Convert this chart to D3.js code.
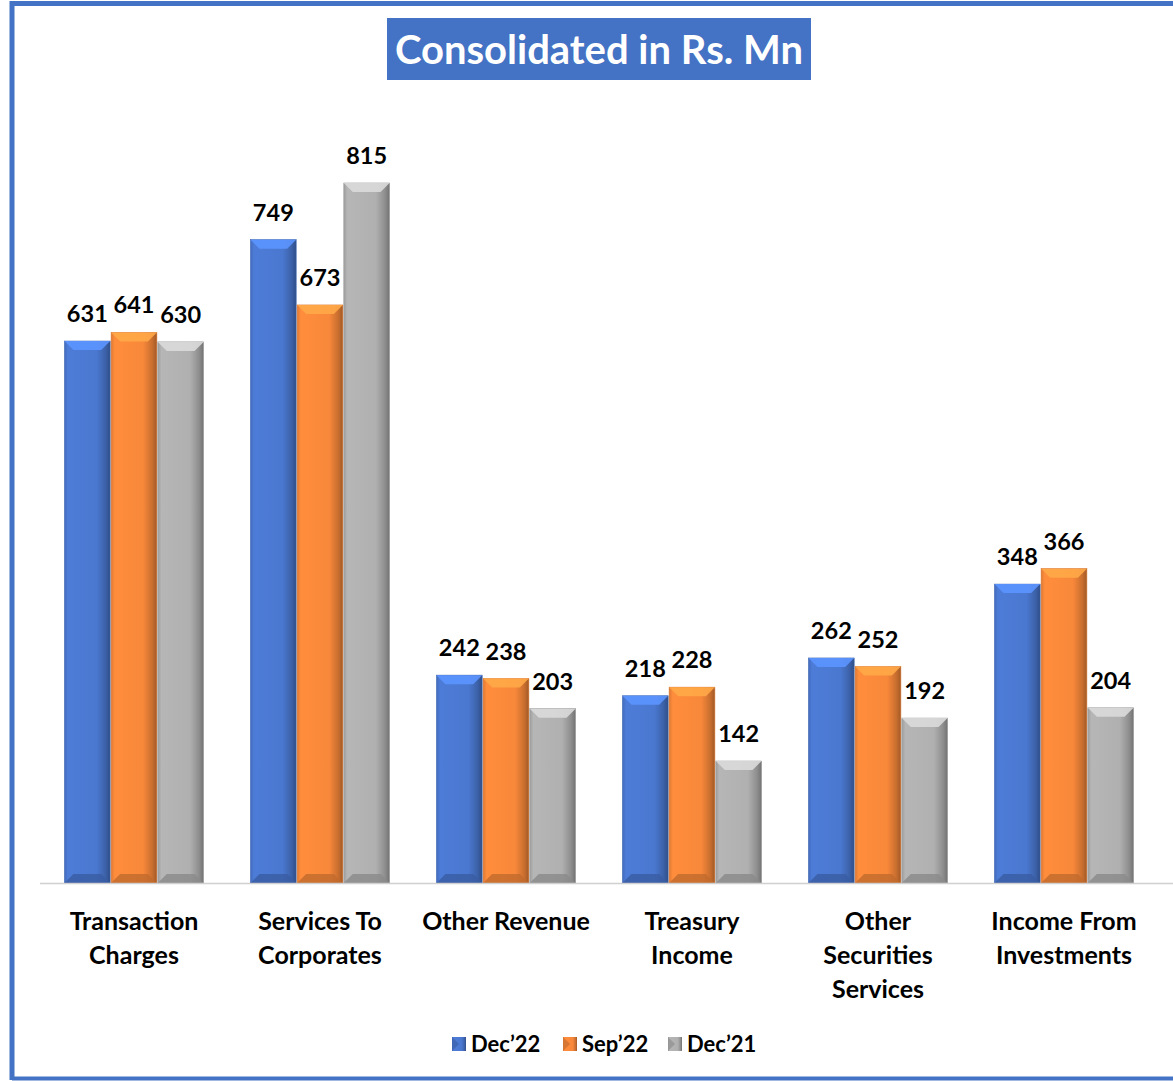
<!DOCTYPE html>
<html><head><meta charset="utf-8">
<script src="https://cdn.jsdelivr.net/npm/d3@7"></script>
<style>
html,body{margin:0;padding:0;background:#fff;}
svg{display:block;font-family:Lato,"Open Sans",sans-serif;}
</style></head>
<body>
<svg id="chart" width="1173" height="1081"></svg>
<script>
const categories = [["Transaction","Charges"],["Services To","Corporates"],["Other Revenue"],["Treasury","Income"],["Other","Securities","Services"],["Income From","Investments"]];
const seriesNames = ["Dec\u201922","Sep\u201922","Dec\u201921"];
const dec22 = [631,749,242,218,262,348];
const sep22 = [641,673,238,228,252,366];
const dec21 = [630,815,203,142,192,204];
const seriesValues = [dec22, sep22, dec21];
const baseColors = ["#4A78D0","#F8883A","#B0B0B0"];

const svg = d3.select("#chart");
const defs = svg.append("defs");

// border
svg.append("path").attr("d","M12,1080 L12,3.5 L1173,3.5").attr("fill","none").attr("stroke","#4472C4").attr("stroke-width",5);
svg.append("line").attr("x1",12).attr("x2",1173).attr("y1",1078.5).attr("y2",1078.5).attr("stroke","#4472C4").attr("stroke-width",4);

// title
svg.append("rect").attr("x",387).attr("y",18).attr("width",424).attr("height",62).attr("fill","#4472C4");
svg.append("text").attr("x",599).attr("y",64).attr("text-anchor","middle").attr("fill","#fff")
  .attr("font-size",40).attr("font-weight","bold").text("Consolidated in Rs. Mn");

const x0 = d3.scaleBand().domain(d3.range(categories.length)).range([41,1157]).paddingInner(0.242).paddingOuter(0.121);
const x1 = d3.scaleBand().domain(d3.range(seriesNames.length)).range([0,x0.bandwidth()]).padding(0.02);
const y = d3.scaleLinear().domain([0,815]).range([883,183]);

// gradients
seriesNames.forEach((s,i)=>{
  const c = d3.color(baseColors[i]);
  const g = defs.append("linearGradient").attr("id","g"+i).attr("x1","0").attr("x2","1").attr("y1","0").attr("y2","0");
  g.append("stop").attr("offset","0").attr("stop-color",c.darker(0.3));
  g.append("stop").attr("offset","0.08").attr("stop-color",c.brighter(0.1));
  g.append("stop").attr("offset","0.7").attr("stop-color",c);
  g.append("stop").attr("offset","0.9").attr("stop-color",c.darker(0.6));
  g.append("stop").attr("offset","1").attr("stop-color",c.darker(1.2));
});

const bev = 9;
const groups = svg.append("g").selectAll("g").data(categories).join("g")
  .attr("transform",(d,i)=>`translate(${x0(i)},0)`);

groups.each(function(cat,ci){
  const g = d3.select(this);
  seriesValues.forEach((vals,si)=>{
    const v = vals[ci];
    const bx = x1(si), bw = x1.bandwidth(), top = y(v), bot = y(0);
    const c = d3.color(baseColors[si]);
    g.append("rect").attr("x",bx).attr("y",top).attr("width",bw).attr("height",bot-top).attr("fill",`url(#g${si})`)
      .attr("stroke",c.darker(0.4)).attr("stroke-width",0.6);
    g.append("path").attr("d",`M${bx},${top} L${bx+bw},${top} L${bx+bw-bev},${top+bev} L${bx+bev},${top+bev} Z`)
      .attr("fill",c.brighter(0.6)).attr("opacity",0.9);
    g.append("path").attr("d",`M${bx},${bot} L${bx+bw},${bot} L${bx+bw-bev},${bot-bev} L${bx+bev},${bot-bev} Z`)
      .attr("fill",c.darker(0.7)).attr("opacity",0.8);
    g.append("text").attr("x",bx+bw/2).attr("y",top-19).attr("text-anchor","middle")
      .attr("font-size",23.5).attr("font-weight","bold").attr("fill","#000").text(v);
  });
  const t = g.append("text").attr("text-anchor","middle").attr("font-size",25).attr("font-weight","bold").attr("fill","#000");
  cat.forEach((line,li)=>{
    t.append("tspan").attr("x",x0.bandwidth()/2).attr("y",930+li*34).text(line);
  });
});

// axis line
svg.append("line").attr("x1",40).attr("x2",1173).attr("y1",883.5).attr("y2",883.5).attr("stroke","#D0D0D0").attr("stroke-width",1.5);

// legend
const legendX = [452,563,668];
const lg = svg.append("g").selectAll("g").data(seriesNames).join("g")
  .attr("transform",(d,i)=>`translate(${legendX[i]},1037)`);
lg.append("rect").attr("width",14).attr("height",14).attr("fill",(d,i)=>`url(#g${i})`);
lg.append("path").attr("d","M0,0 L7,7 L0,14 Z").attr("fill",(d,i)=>d3.color(baseColors[i]).darker(0.6)).attr("opacity",0.7);
lg.append("text").attr("x",19).attr("y",15).attr("font-size",22).attr("font-weight","bold").attr("fill","#000").text(d=>d);
</script>
</body></html>
